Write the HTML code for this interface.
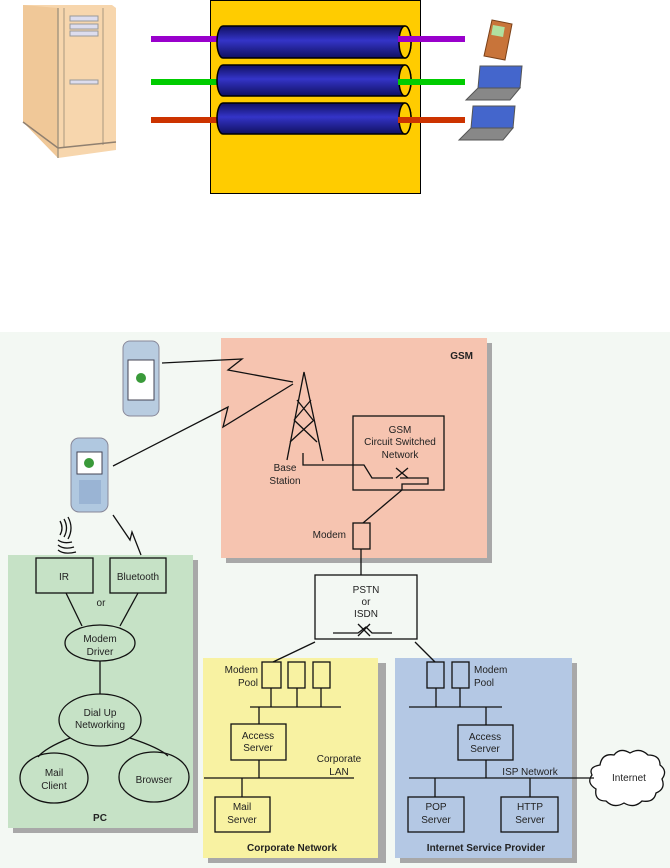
<!DOCTYPE html>
<html><head><meta charset="utf-8"><style>
html,body{margin:0;padding:0;background:#fff;}
svg{display:block;font-family:"Liberation Sans",Arial,sans-serif;}
</style></head><body>
<svg width="670" height="868" viewBox="0 0 670 868" xmlns="http://www.w3.org/2000/svg">
<defs>
<linearGradient id="cyl" x1="0" y1="0" x2="0" y2="1">
<stop offset="0" stop-color="#101060"/><stop offset="0.45" stop-color="#3434c8"/><stop offset="1" stop-color="#101060"/>
</linearGradient>
</defs>
<!-- server -->
<polygon points="23,5 112,5 116,8 116,150 58,158 23,122" fill="#f7d6ad"/>
<polygon points="23,5 58,8 58,158 23,122" fill="#f0c898"/>
<line x1="58" y1="8" x2="58" y2="158" stroke="#a89880" stroke-width="1.5"/>
<line x1="64" y1="8" x2="64" y2="148" stroke="#a89880" stroke-width="1"/>
<line x1="103" y1="8" x2="103" y2="145" stroke="#a89880" stroke-width="1"/>
<line x1="23" y1="122" x2="58" y2="148" stroke="#908070" stroke-width="1.5"/>
<line x1="58" y1="148" x2="116" y2="142" stroke="#908070" stroke-width="1.5"/>
<rect x="70" y="16" width="28" height="5" fill="#dde" stroke="#999"/>
<rect x="70" y="24" width="28" height="5" fill="#dde" stroke="#999"/>
<rect x="70" y="31" width="28" height="5" fill="#dde" stroke="#999"/>
<rect x="70" y="80" width="28" height="4" fill="#dde" stroke="#999"/>
<!-- yellow box -->
<rect x="210.5" y="0.5" width="210" height="193" fill="#ffcc00" stroke="#000"/>
<rect x="151" y="36" width="68" height="6" fill="#9900cc"/>
<rect x="151" y="79" width="68" height="6" fill="#00cc00"/>
<rect x="151" y="117" width="68" height="6" fill="#cc3300"/>
<g stroke="#000" stroke-width="1.5">
<path d="M223,26 H405 A6,16 0 0 1 405,58 H223 A6,16 0 0 1 223,26Z" fill="url(#cyl)"/>
<ellipse cx="405" cy="42" rx="6" ry="16" fill="#ffcc00"/>
<path d="M223,65 H405 A6,15.5 0 0 1 405,96 H223 A6,15.5 0 0 1 223,65Z" fill="url(#cyl)"/>
<ellipse cx="405" cy="80.5" rx="6" ry="15.5" fill="#ffcc00"/>
<path d="M223,103 H405 A6,15.5 0 0 1 405,134 H223 A6,15.5 0 0 1 223,103Z" fill="url(#cyl)"/>
<ellipse cx="405" cy="118.5" rx="6" ry="15.5" fill="#ffcc00"/>
</g>
<rect x="398" y="36" width="67" height="6" fill="#9900cc"/>
<rect x="398" y="79" width="67" height="6" fill="#00cc00"/>
<rect x="398" y="117" width="67" height="6" fill="#cc3300"/>
<polygon points="492,20 512,24 505,60 484,56" fill="#c8743a" stroke="#7a4018"/>
<rect x="492" y="26" width="12" height="10" fill="#b0e0a0" transform="rotate(10 498 31)"/>
<polygon points="480,66 522,66 520,88 478,88" fill="#4466cc" stroke="#555"/>
<polygon points="478,88 520,88 510,100 466,100" fill="#888" stroke="#555"/>
<polygon points="473,106 515,106 513,128 471,128" fill="#4466cc" stroke="#555"/>
<polygon points="471,128 513,128 503,140 459,140" fill="#888" stroke="#555"/>

<rect x="0" y="332" width="670" height="536" fill="#f3f8f3"/>
<rect x="226" y="343" width="266" height="220" fill="#a8a8a8"/>
<rect x="13" y="560" width="185" height="273" fill="#a8a8a8"/>
<rect x="208" y="663" width="178" height="200" fill="#a8a8a8"/>
<rect x="400" y="663" width="177" height="200" fill="#a8a8a8"/>
<rect x="221" y="338" width="266" height="220" fill="#f6c4b0"/>
<rect x="8" y="555" width="185" height="273" fill="#c6e2c6"/>
<rect x="203" y="658" width="175" height="200" fill="#f8f2a2"/>
<rect x="395" y="658" width="177" height="200" fill="#b4c8e4"/>

<path d="M600,765 q2,-12 14,-10 q6,-8 16,-2 q10,-6 18,2 q12,0 12,10 q8,6 2,14 q4,10 -6,14 q-2,10 -14,8 q-8,8 -18,2 q-10,6 -18,-2 q-12,0 -10,-12 q-10,-6 -4,-14 q-4,-8 8,-10z" fill="#fff" stroke="#111" stroke-width="1.3"/>

<g font-size="10" fill="#222" text-anchor="middle">
<text x="473" y="359" text-anchor="end" font-weight="bold">GSM</text>
<text x="285" y="471">Base</text>
<text x="285" y="484">Station</text>
<text x="400" y="433">GSM</text>
<text x="400" y="445">Circuit Switched</text>
<text x="400" y="458">Network</text>
<text x="346" y="538" text-anchor="end">Modem</text>
<text x="366" y="593">PSTN</text>
<text x="366" y="605">or</text>
<text x="366" y="617">ISDN</text>
<text x="64" y="580">IR</text>
<text x="138" y="580">Bluetooth</text>
<text x="101" y="606">or</text>
<text x="100" y="642">Modem</text>
<text x="100" y="655">Driver</text>
<text x="100" y="716">Dial Up</text>
<text x="100" y="728">Networking</text>
<text x="54" y="776">Mail</text>
<text x="54" y="789">Client</text>
<text x="154" y="783">Browser</text>
<text x="100" y="821" font-weight="bold">PC</text>
<text x="258" y="673" text-anchor="end">Modem</text>
<text x="258" y="686" text-anchor="end">Pool</text>
<text x="258" y="739">Access</text>
<text x="258" y="751">Server</text>
<text x="339" y="762">Corporate</text>
<text x="339" y="775">LAN</text>
<text x="242" y="810">Mail</text>
<text x="242" y="823">Server</text>
<text x="292" y="851" font-weight="bold">Corporate Network</text>
<text x="474" y="673" text-anchor="start">Modem</text>
<text x="474" y="686" text-anchor="start">Pool</text>
<text x="485" y="740">Access</text>
<text x="485" y="752">Server</text>
<text x="530" y="775">ISP Network</text>
<text x="436" y="810">POP</text>
<text x="436" y="823">Server</text>
<text x="530" y="810">HTTP</text>
<text x="530" y="823">Server</text>
<text x="486" y="851" font-weight="bold">Internet Service Provider</text>
<text x="629" y="781">Internet</text>
</g>

<g fill="none" stroke="#111" stroke-width="1.3">
<polyline points="162,363 242,359 228,370 293,382"/>
<polyline points="113,466 228,407 223,427 293,384"/>
<polyline points="287,460 304,372 323,461"/>
<line x1="297" y1="400" x2="313" y2="420"/><line x1="311" y1="400" x2="294" y2="420"/>
<line x1="294" y1="420" x2="317" y2="442"/><line x1="314" y1="420" x2="290" y2="442"/>
<polyline points="303,453 303,465 364,465 372,478 393,478"/>
<line x1="396" y1="468" x2="408" y2="478"/><line x1="408" y1="468" x2="396" y2="478"/>
<polyline points="400,478 428,478 428,484 402,484 402,490 363,523"/>
<rect x="353" y="416" width="91" height="74"/>
<rect x="353" y="523" width="17" height="26"/>
<line x1="361" y1="549" x2="361" y2="575"/>
<rect x="315" y="575" width="102" height="64"/>
<polyline points="333,633 358,633 366,627 372,633 392,633"/>
<line x1="358" y1="624" x2="370" y2="636"/><line x1="370" y1="624" x2="358" y2="636"/>
<line x1="315" y1="642" x2="273" y2="662"/>
<line x1="415" y1="642" x2="435" y2="662"/>
<path d="M60,521 q4,7 0,14 M64,519 q5,9 0,18 M68,517 q6,11 0,22 M58,540 q5,4 14,2 M58,545 q6,5 16,2 M58,550 q6,5 18,2"/>
<polyline points="113,515 130,540 132,532 141,555"/>
<rect x="36" y="558" width="57" height="35"/>
<rect x="110" y="558" width="56" height="35"/>
<line x1="66" y1="593" x2="82" y2="626"/>
<line x1="138" y1="593" x2="120" y2="626"/>
<ellipse cx="100" cy="643" rx="35" ry="18"/>
<line x1="100" y1="661" x2="100" y2="694"/>
<ellipse cx="100" cy="720" rx="41" ry="26"/>
<path d="M70,738 Q45,748 38,757"/>
<path d="M130,738 Q160,748 168,756"/>
<ellipse cx="54" cy="778" rx="34" ry="25"/>
<ellipse cx="154" cy="777" rx="35" ry="25"/>
<rect x="262" y="662" width="19" height="26"/>
<rect x="288" y="662" width="17" height="26"/>
<rect x="313" y="662" width="17" height="26"/>
<line x1="271" y1="688" x2="271" y2="707"/><line x1="297" y1="688" x2="297" y2="707"/><line x1="321" y1="688" x2="321" y2="707"/>
<line x1="250" y1="707" x2="341" y2="707"/>
<line x1="259" y1="707" x2="259" y2="724"/>
<rect x="231" y="724" width="55" height="36"/>
<line x1="259" y1="760" x2="259" y2="778"/>
<line x1="204" y1="778" x2="354" y2="778"/>
<line x1="242" y1="778" x2="242" y2="797"/>
<rect x="215" y="797" width="55" height="35"/>
<rect x="427" y="662" width="17" height="26"/>
<rect x="452" y="662" width="17" height="26"/>
<line x1="436" y1="688" x2="436" y2="707"/><line x1="460" y1="688" x2="460" y2="707"/>
<line x1="409" y1="707" x2="502" y2="707"/>
<line x1="486" y1="707" x2="486" y2="725"/>
<rect x="458" y="725" width="55" height="35"/>
<line x1="486" y1="760" x2="486" y2="778"/>
<line x1="409" y1="778" x2="594" y2="778"/>
<line x1="435" y1="778" x2="435" y2="797"/>
<line x1="530" y1="778" x2="530" y2="797"/>
<rect x="408" y="797" width="56" height="35"/>
<rect x="501" y="797" width="57" height="35"/>
</g>
<rect x="123" y="341" width="36" height="75" rx="7" fill="#b8cce0" stroke="#889"/>
<rect x="128" y="360" width="26" height="40" fill="#fff" stroke="#445"/>
<circle cx="141" cy="378" r="5" fill="#3a9a3a"/>
<rect x="71" y="438" width="37" height="74" rx="8" fill="#b0c8e0" stroke="#889"/>
<rect x="77" y="452" width="25" height="22" fill="#fff" stroke="#445"/>
<circle cx="89" cy="463" r="5" fill="#3a9a3a"/>
<rect x="79" y="480" width="22" height="24" fill="#9ab4d4"/>
</svg>
</body></html>
